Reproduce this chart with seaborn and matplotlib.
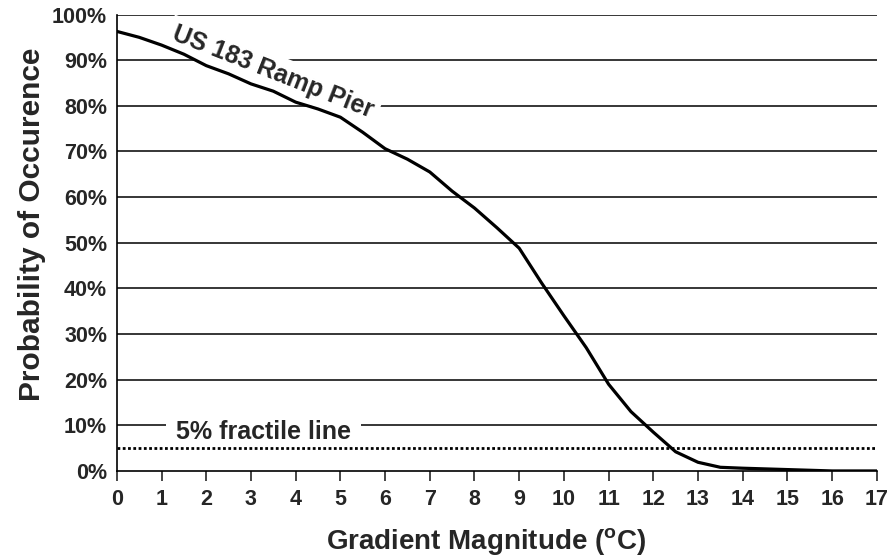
import matplotlib
matplotlib.use("Agg")
import matplotlib.pyplot as plt
import seaborn as sns
import pandas as pd

# values
gradient = [0, 0.5, 1, 1.5, 2, 2.5, 3, 3.5, 4, 4.5, 5, 5.5, 6, 6.5, 7, 7.5, 8,
            8.5, 9, 9.5, 10, 10.5, 11, 11.5, 12, 12.5, 13, 13.5, 14, 15, 16, 17]
probability = [96.3, 95.0, 93.3, 91.3, 88.8, 87.0, 84.8, 83.2, 80.8, 79.3, 77.5,
               74.2, 70.6, 68.3, 65.5, 61.3, 57.6, 53.3, 48.8, 41.2, 34.0, 27.0,
               19.0, 13.0, 8.5, 4.2, 1.9, 0.8, 0.6, 0.3, 0.0, 0.0]
fractile = 5
x_ticks = list(range(0, 18))
y_ticks = list(range(0, 101, 10))
y_labels = [f"{v}%" for v in y_ticks]

df = pd.DataFrame({"Gradient": gradient, "Probability": probability})

sns.set_style("white")
plt.rcParams["font.family"] = ["Liberation Sans", "DejaVu Sans"]
plt.rcParams["font.weight"] = "bold"
plt.rcParams["mathtext.fontset"] = "custom"
plt.rcParams["mathtext.rm"] = "Liberation Sans:bold"
plt.rcParams["mathtext.it"] = "Liberation Sans:bold"

fig = plt.figure(figsize=(8.92, 5.58), dpi=100)
ax = fig.add_axes([0.131, 0.156, 0.852, 0.818])

for v in y_ticks[1:]:
    ax.axhline(v, color="black", lw=1.1, zorder=1)

# text boxes hide only the grid, so they sit between grid and data lines
ax.text(3.5, 87.4, "US 183 Ramp Pier", fontsize=18, fontweight="bold",
        rotation=-21.5, ha="center", va="center", zorder=2,
        bbox=dict(facecolor="white", edgecolor="none", pad=4))
ax.text(1.32, 8.6, "5% fractile line", fontsize=18, fontweight="bold",
        ha="left", va="center", zorder=2,
        bbox=dict(facecolor="white", edgecolor="none", pad=7))

ax.axhline(fractile, color="black", lw=2.0, dashes=(1, 0.9), zorder=3)
sns.lineplot(data=df, x="Gradient", y="Probability", ax=ax, color="black",
             lw=2.3, zorder=4)

ax.set_xlim(0, 17)
ax.set_ylim(0, 100)
ax.set_xticks(x_ticks)
ax.set_yticks(y_ticks)
ax.set_yticklabels(y_labels)
ax.tick_params(axis="x", direction="out", length=7, width=1.2, labelsize=15.5,
               pad=6, bottom=True)
ax.tick_params(axis="y", length=0, labelsize=15.5, pad=7)
for lab in ax.get_xticklabels() + ax.get_yticklabels():
    lab.set_fontweight("bold")

for side in ["top", "right"]:
    ax.spines[side].set_visible(False)
for side in ["left", "bottom"]:
    ax.spines[side].set_color("black")
    ax.spines[side].set_linewidth(1.2)

ax.set_xlabel(r"Gradient Magnitude ($^{o}$C)", fontsize=20, fontweight="bold")
ax.set_ylabel("Probability of Occurence", fontsize=21.5, fontweight="bold")
ax.xaxis.set_label_coords(0.486, -0.121)
ax.yaxis.set_label_coords(-0.093, 0.541)

fig.savefig("out.png", dpi=100)
